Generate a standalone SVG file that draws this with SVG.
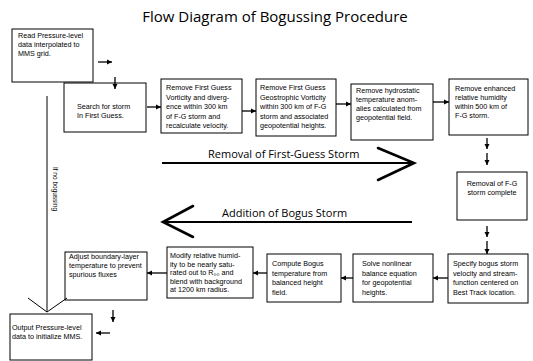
<svg xmlns="http://www.w3.org/2000/svg" width="533" height="361" viewBox="0 0 533 361">
<defs>
<marker id="ah" markerWidth="6" markerHeight="6" refX="5" refY="3" orient="auto" markerUnits="userSpaceOnUse">
<path d="M0,0.5 L5,3 L0,5.5 Z" fill="#000"/>
</marker>
<style>
.box{fill:#fff;stroke:#000;stroke-width:1}
.t{font-family:"Liberation Sans",Arial,sans-serif;font-size:7.2px;fill:#000}
.c{stroke:#000;stroke-width:1.3;fill:none;marker-end:url(#ah)}
.big{stroke:#000;stroke-width:2;fill:none}
.bigh{stroke:#000;stroke-width:2.6;fill:none;stroke-linecap:round;stroke-linejoin:miter}
.lbl{font-family:"Open Sans","Liberation Sans",sans-serif;font-size:11px;fill:#000}
</style>
</defs>
<rect width="533" height="361" fill="#fff"/>
<text x="275" y="22" text-anchor="middle" style="font-family:'Open Sans','Liberation Sans',sans-serif;font-size:15px;fill:#000">Flow Diagram of Bogussing Procedure</text>

<g id="read">
<rect class="box" x="12" y="29" width="81" height="53"/>
<text class="t" x="18" y="38">Read Pressure-level</text>
<text class="t" x="18" y="47">data interpolated to</text>
<text class="t" x="18" y="56">MMS grid.</text>
</g>
<g id="search">
<rect class="box" x="64" y="83" width="82" height="49"/>
<text class="t" x="77" y="109">Search for storm</text>
<text class="t" x="77" y="118">In First Guess.</text>
</g>
<g id="remvort">
<rect class="box" x="161" y="79" width="81" height="54"/>
<text class="t" x="166" y="90">Remove First Guess</text>
<text class="t" x="166" y="99.5">Vorticity and diverg-</text>
<text class="t" x="166" y="109">ence within 300 km</text>
<text class="t" x="166" y="118.5">of F-G storm and</text>
<text class="t" x="166" y="128">recalculate velocity.</text>
</g>
<g id="remgeo">
<rect class="box" x="256" y="79" width="80" height="57"/>
<text class="t" x="260" y="90">Remove First Guess</text>
<text class="t" x="260" y="99.5">Geostrophic Vorticity</text>
<text class="t" x="260" y="109">within 300 km of F-G</text>
<text class="t" x="260" y="118.5">storm and associated</text>
<text class="t" x="260" y="128">geopotential heights.</text>
</g>
<g id="remhyd">
<rect class="box" x="351" y="84" width="82" height="56"/>
<text class="t" x="356" y="93">Remove hydrostatic</text>
<text class="t" x="356" y="102">temperature anom-</text>
<text class="t" x="356" y="111">alies calculated from</text>
<text class="t" x="356" y="120">geopotential field.</text>
</g>
<g id="remrh">
<rect class="box" x="449" y="79" width="79" height="56"/>
<text class="t" x="455" y="91">Remove enhanced</text>
<text class="t" x="455" y="100">relative humidity</text>
<text class="t" x="455" y="109">within 500 km of</text>
<text class="t" x="455" y="118">F-G storm.</text>
</g>
<g id="complete">
<rect class="box" x="457" y="172" width="70" height="48"/>
<text class="t" x="492" y="186" text-anchor="middle">Removal of F-G</text>
<text class="t" x="492" y="195" text-anchor="middle">storm complete</text>
</g>
<g id="specify">
<rect class="box" x="448" y="254" width="80" height="49"/>
<text class="t" x="453" y="266">Specify bogus storm</text>
<text class="t" x="453" y="275.5">velocity and stream-</text>
<text class="t" x="453" y="285">function centered on</text>
<text class="t" x="453" y="294.5">Best Track location.</text>
</g>
<g id="solve">
<rect class="box" x="353" y="254" width="80" height="48"/>
<text class="t" x="362" y="266">Solve nonlinear</text>
<text class="t" x="362" y="275.5">balance equation</text>
<text class="t" x="362" y="285">for geopotential</text>
<text class="t" x="362" y="294.5">heights.</text>
</g>
<g id="compute">
<rect class="box" x="267" y="254" width="74" height="48"/>
<text class="t" x="272" y="266">Compute Bogus</text>
<text class="t" x="272" y="275.5">temperature from</text>
<text class="t" x="272" y="285">balanced height</text>
<text class="t" x="272" y="294.5">field.</text>
</g>
<g id="modify">
<rect class="box" x="167" y="247" width="86" height="51"/>
<text class="t" x="170" y="258">Modify relative humid-</text>
<text class="t" x="170" y="266.5">ity to be nearly satu-</text>
<text class="t" x="170" y="275">rated out to R₀₀ and</text>
<text class="t" x="170" y="283.5">blend with background</text>
<text class="t" x="170" y="292">at 1200 km radius.</text>
</g>
<g id="adjust">
<rect class="box" x="65" y="252" width="82" height="48"/>
<text class="t" x="69" y="259">Adjust boundary-layer</text>
<text class="t" x="69" y="268">temperature to prevent</text>
<text class="t" x="69" y="277">spurious fluxes</text>
</g>
<g id="output">
<rect class="box" x="10" y="314" width="82" height="46"/>
<text class="t" x="12" y="330">Output Pressure-level</text>
<text class="t" x="12" y="339">data to initialize MMS.</text>
</g>

<g id="connectors">
<line class="c" x1="98" y1="62" x2="112" y2="62"/>
<line class="c" x1="115" y1="77" x2="115" y2="89"/>
<line class="c" x1="147" y1="107" x2="161" y2="107"/>
<line class="c" x1="242" y1="111" x2="256" y2="111"/>
<line class="c" x1="336" y1="104" x2="351" y2="104"/>
<line class="c" x1="433" y1="102" x2="449" y2="102"/>
<line class="c" x1="487" y1="138" x2="487" y2="149"/>
<line class="c" x1="487" y1="153" x2="487" y2="165"/>
<line class="c" x1="487" y1="226" x2="487" y2="237"/>
<line class="c" x1="487" y1="241" x2="487" y2="254"/>
<line class="c" x1="448" y1="278" x2="433" y2="278"/>
<line class="c" x1="353" y1="278" x2="341" y2="278"/>
<line class="c" x1="267" y1="273" x2="253" y2="273"/>
<line class="c" x1="167" y1="273" x2="147" y2="273"/>
<line class="c" x1="113" y1="310" x2="113" y2="322"/>
<line class="c" x1="110" y1="333" x2="96" y2="333"/>
<line x1="47" y1="96" x2="47" y2="312" stroke="#000" stroke-width="1"/>
<polyline points="28,298 47,312 67,298" fill="none" stroke="#000" stroke-width="1"/>
<text x="53" y="189" text-anchor="middle" transform="rotate(90 53 189)" style="font-family:'Liberation Sans',Arial,sans-serif;font-size:6.5px;fill:#000">If no bogussing</text>
<line class="big" x1="162" y1="163" x2="413" y2="163"/>
<polyline class="bigh" points="378,148 414,163 378,180"/>
<text class="lbl" x="208" y="158">Removal of First-Guess Storm</text>
<line class="big" x1="164" y1="222" x2="412" y2="222"/>
<polyline class="bigh" points="193,206 163,222 193,237"/>
<text class="lbl" x="222" y="217">Addition of Bogus Storm</text>
</g>
</svg>
